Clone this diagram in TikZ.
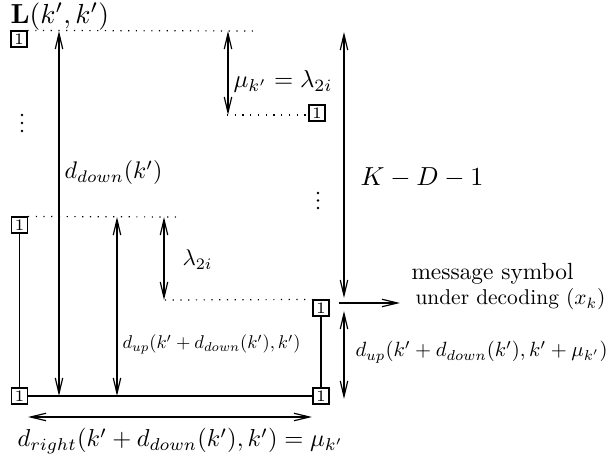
\RequirePackage{fix-cm}
\documentclass[tikz,border=0pt]{standalone}
\usepackage{graphicx}
\usetikzlibrary{arrows.meta}
\newcommand{\fitw}[2]{\resizebox{#1}{!}{#2}}
\begin{document}
\begin{tikzpicture}[x=0.375pt,y=-0.375pt,
  box/.style={draw,line width=0.4pt,minimum width=6pt,minimum height=6pt,inner sep=0pt,font=\fontsize{6}{6}\selectfont},
  conn/.style={line width=0.45pt},
  dotline/.style={line width=0.45pt,dash pattern=on 0.45pt off 2.45pt},
  dimarrow/.style={line width=0.45pt,{Straight Barb[length=5.8pt,width=2.8pt]}-{Straight Barb[length=5.8pt,width=2.8pt]}},
  onearrow/.style={line width=0.45pt,-{Straight Barb[length=5.8pt,width=2.8pt]}},
  lbl/.style={inner sep=0pt,anchor=base west}
]
\useasboundingbox (0,0) rectangle (610,467);

% boxes
\node[box] (b1) at (19,39) {1};
\node[box] (b2) at (317,113) {1};
\node[box] (b3) at (19.5,225) {1};
\node[box] (b4) at (321,308) {1};
\node[box] (b5) at (19.5,396) {1};
\node[box] (b6) at (321,396) {1};

% solid connections
\draw[conn] (b3) -- (b5);
\draw[conn] (b4) -- (b6);
\draw[conn] (b5) -- (b6);

% dotted levels
\coordinate (d1e) at (258,31);
\draw[dotline] (b1.north east) -- (d1e);
\coordinate (d2s) at (227,115);
\draw[dotline] (d2s) -- (d2s -| b2.west);
\coordinate (d3e) at (176,217);
\draw[dotline] (b3.north east) -- (d3e);
\coordinate (d4s) at (165,300);
\draw[dotline] (d4s) -- (b4.north west);

% vertical dots
\foreach \yy in {115,123,131} \fill (22,\yy) circle[radius=0.5pt];
\foreach \yy in {193,200.5,208} \fill (318,\yy) circle[radius=0.5pt];

% arrows
\coordinate (a1t) at (59,31);   \coordinate (a1b) at (59,396);
\coordinate (a2t) at (117,217); \coordinate (a2b) at (117,396);
\coordinate (a3t) at (164,217); \coordinate (a3b) at (164,300);
\coordinate (a4t) at (228,31);  \coordinate (a4b) at (228,115);
\coordinate (a5t) at (344,32);  \coordinate (a5b) at (344,298);
\coordinate (a6t) at (344,311); \coordinate (a6b) at (344,399);
\coordinate (a7s) at (339,303); \coordinate (a7e) at (400,303);
\coordinate (a8l) at (28,417);  \coordinate (a8r) at (312,417);
\draw[dimarrow] (a1t) -- (a1b);
\draw[dimarrow] (a2t) -- (a2b);
\draw[dimarrow] (a3t) -- (a3b);
\draw[dimarrow] (a4t) -- (a4b);
\draw[dimarrow] (a5t) -- (a5b);
\draw[dimarrow] (a6t) -- (a6b);
\draw[onearrow] (a7s) -- (a7e);
\draw[dimarrow] (a8l) -- (a8r);

% labels
\node[lbl] (L) at (10,24) {\fitw{37pt}{$\mathbf{L}(k',k')$}};
\node[lbl] (dd) at (64,179) {\fitw{36.75pt}{$d_{down}(k')$}};
\node[lbl] (mu) at (233,88) {\fitw{37.1pt}{$\mu_{k'}=\lambda_{2i}$}};
\node[lbl] (kd) at (360,186) {\fitw{46.1pt}{$K-D-1$}};
\node[lbl] (lam) at (182,266) {\fitw{11.25pt}{$\lambda_{2i}$}};
\node[lbl] (dum) at (122,349) {\fitw{66.75pt}{$d_{up}(k'+d_{down}(k'),k')$}};
\node[lbl] (m1) at (411,280) {\fitw{60.75pt}{message symbol}};
\node[lbl] (m2) at (415,305) {\fitw{71.25pt}{under decoding ($x_k$)}};
\node[lbl] (dur) at (355,357) {\fitw{94.5pt}{$d_{up}(k'+d_{down}(k'),k'+\mu_{k'})$}};
\node[lbl] (dr) at (17,447) {\fitw{122.25pt}{$d_{right}(k'+d_{down}(k'),k')=\mu_{k'}$}};
\end{tikzpicture}
\end{document}
